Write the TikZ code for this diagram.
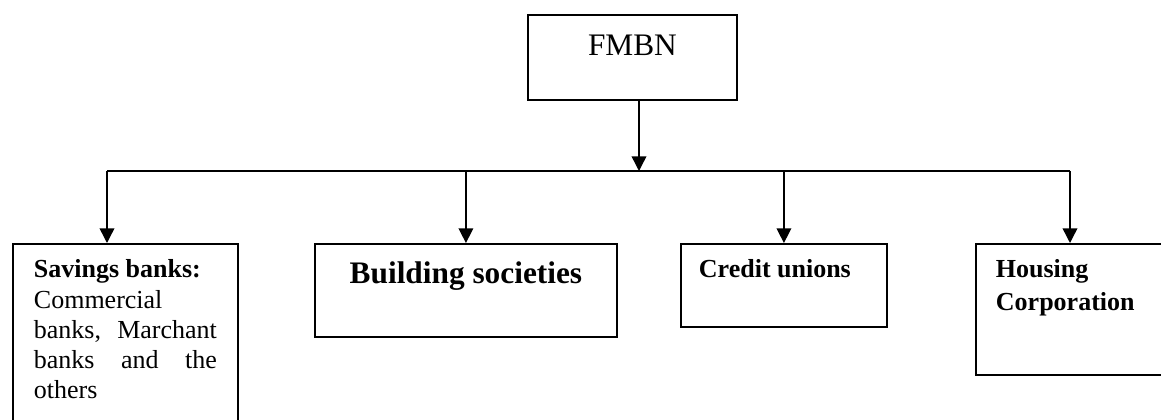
\documentclass[tikz,border=0pt]{standalone}
\usepackage{fontspec}
\setmainfont{Liberation Serif}
\usetikzlibrary{arrows.meta,positioning}

\begin{document}
\begin{tikzpicture}[
  x=0.75pt, y=-0.75pt,
  >={Triangle[length=11pt, width=11pt]},
  box/.style={draw, line width=1.4pt, anchor=north west, inner ysep=0pt},
  link/.style={line width=1.1pt},
  small/.style={font=\fontsize{19.5}{22.7}\selectfont},
  large/.style={font=\fontsize{23.5}{28}\selectfont}
]
\useasboundingbox (0,0) rectangle (1161,420);
\clip (0,0) rectangle (1161,420);

\node[box, large, inner xsep=0pt] (fmbn) at (527,14)
  {\parbox[t][63.75pt][t]{156.75pt}{\centering\rule{0pt}{30.75pt}FMBN}};
\node[box, small, inner xsep=15.75pt] (savings) at (12,243)
  {\parbox[t][147.75pt][t]{137.25pt}{\rule{0pt}{25.5pt}\textbf{Savings banks:}\\
   Commercial\\ banks, Marchant\linebreak banks and the\linebreak others}};
\node[box, large, inner xsep=0pt] (building) at (314,243)
  {\parbox[t][69.75pt][t]{226.5pt}{\centering\bfseries\rule{0pt}{30pt}Building societies}};
\node[box, small, inner xsep=13.5pt] (credit) at (680,243)
  {\parbox[t][62.25pt][t]{127.5pt}{\raggedright\bfseries\rule{0pt}{25.5pt}Credit unions}};
\node[box, small, inner xsep=15pt] (housing) at (975,243)
  {\parbox[t][98.25pt][t]{127.5pt}{\raggedright\bfseries\baselineskip=24.75pt\rule{0pt}{25.5pt}Housing\\ Corporation}};

\coordinate (hub) at (639,171);
\coordinate (busL) at (107,171);
\coordinate (busR) at (1070,171);

\draw[link, ->] (fmbn.south -| hub) -- (hub);
\draw[link] (busL) -- (busR);
\draw[link, ->] (busL) -- (busL |- savings.north);
\draw[link, ->] (building.north |- hub) -- (building.north);
\draw[link, ->] (credit.north |- hub) -- (credit.north);
\draw[link, ->] (busR) -- (busR |- housing.north);
\end{tikzpicture}
\end{document}
